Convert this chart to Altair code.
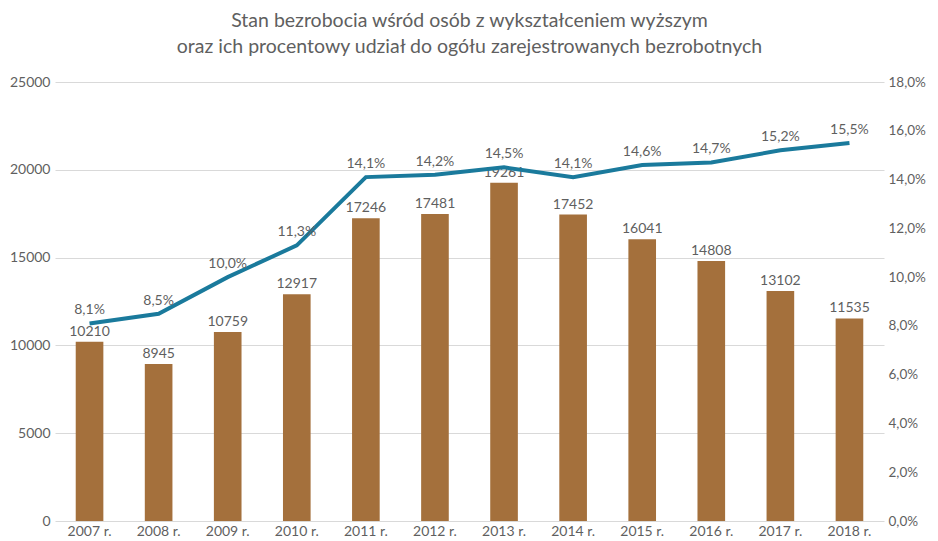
import altair as alt
import pandas as pd

years = ["2007 r.", "2008 r.", "2009 r.", "2010 r.", "2011 r.", "2012 r.",
         "2013 r.", "2014 r.", "2015 r.", "2016 r.", "2017 r.", "2018 r."]
unemployed = [10210, 8945, 10759, 12917, 17246, 17481, 19261, 17452, 16041, 14808, 13102, 11535]
share = [8.1, 8.5, 10.0, 11.3, 14.1, 14.2, 14.5, 14.1, 14.6, 14.7, 15.2, 15.5]

df = pd.DataFrame({"year": years, "count": unemployed, "share": share})
df["share_lbl"] = [f"{v:.1f}".replace(".", ",") + "%" for v in share]

FONT = "Lato"
GREY = "#5f5f5f"
BAR = "#a4703c"
LINE = "#1a7a9c"
FS = 14

x = alt.X("year:N", sort=years, title=None,
          scale=alt.Scale(paddingInner=0.6, paddingOuter=0.3),
          axis=alt.Axis(labelAngle=0, ticks=False, domain=False, labelPadding=3,
                        labelFontSize=FS, labelColor=GREY, labelFont=FONT))

left_axis = alt.Axis(values=[0, 5000, 10000, 15000, 20000, 25000], domain=False,
                     ticks=False, labelPadding=5, grid=True, gridColor="#d9d9d9",
                     labelFontSize=FS, labelColor=GREY, labelFont=FONT, format="d")
y_left = alt.Y("count:Q", title=None, scale=alt.Scale(domain=[0, 25000], nice=False), axis=left_axis)

bars = alt.Chart(df).mark_bar(color=BAR).encode(x=x, y=y_left)
bar_text = alt.Chart(df).mark_text(baseline="bottom", dy=-3, fontSize=FS, color=GREY, font=FONT).encode(
    x=x, y=y_left, text="count:Q")

left = alt.layer(bars, bar_text)

right_axis = alt.Axis(orient="right", values=list(range(0, 19, 2)), domain=False, ticks=False,
                      grid=False, labelPadding=4, labelFontSize=13.5, labelColor=GREY,
                      labelFont=FONT,
                      labelExpr="replace(format(datum.value, '.1f'), '.', ',') + '%'")
y_right = alt.Y("share:Q", title=None, scale=alt.Scale(domain=[0, 18], nice=False), axis=right_axis)

line = alt.Chart(df).mark_line(color=LINE, strokeWidth=4).encode(x=x, y=y_right)
line_text = alt.Chart(df).mark_text(baseline="bottom", dy=-6, fontSize=FS, color=GREY, font=FONT).encode(
    x=x, y=y_right, text="share_lbl:N")

right = alt.layer(line, line_text)

chart = alt.layer(left, right).resolve_scale(y="independent").properties(
    width=829, height=439,
    autosize=alt.AutoSizeParams(type="none"),
    padding={"left": 47, "top": 74, "right": 46, "bottom": 20},
    title=alt.Title(["Stan bezrobocia wśród osób z wykształceniem wyższym",
                     "oraz ich procentowy udział do ogółu zarejestrowanych bezrobotnych"],
                    fontSize=19.5, font=FONT, fontWeight="normal", color=GREY, anchor="middle",
                    offset=18, lineHeight=26)
).configure_view(stroke=None)

chart.save("out.html", embed_options={"renderer": "svg", "actions": False})
